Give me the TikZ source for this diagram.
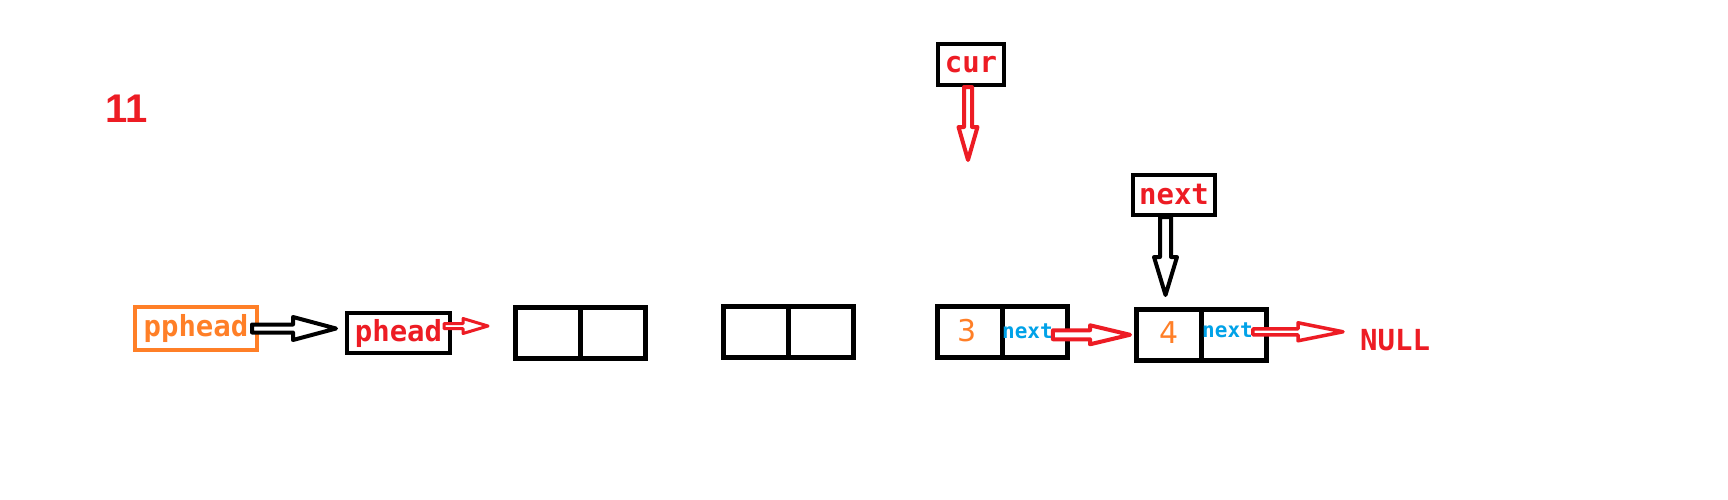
\documentclass[tikz,border=0pt]{standalone}
\usepackage{fontspec}
\usetikzlibrary{calc}
\newfontfamily\monof{DejaVu Sans Mono}
\newfontfamily\sansf{DejaVu Sans}
\newfontfamily\arialf{Liberation Sans}
\definecolor{pred}{RGB}{237,28,36}
\definecolor{porange}{RGB}{255,127,39}
\definecolor{pblue}{RGB}{0,162,232}
% hollow horizontal arrow: style, start, tip, shaft half, head half, head length
\newcommand{\harr}[6]{\draw[#1] let \p1=#2, \p2=#3 in (\x1,\y1+#4) -- (\x2-#6,\y1+#4) -- (\x2-#6,\y1+#5) -- (\x2,\y1) -- (\x2-#6,\y1-#5) -- (\x2-#6,\y1-#4) -- (\x1,\y1-#4) -- cycle;}
% hollow downward arrow
\newcommand{\varr}[6]{\draw[#1] let \p1=#2, \p2=#3 in (\x1+#4,\y1) -- (\x1+#4,\y2+#6) -- (\x1+#5,\y2+#6) -- (\x1,\y2) -- (\x1-#5,\y2+#6) -- (\x1-#4,\y2+#6) -- (\x1-#4,\y1) -- cycle;}
\begin{document}
\begin{tikzpicture}[x=1pt,y=-1pt,
  lbl/.style={font=\monof\bfseries\fontsize{29}{34}\selectfont, inner sep=0pt},
  ptrbox/.style={draw=black, line width=4pt, lbl, text=pred},
  cellbox/.style={draw=black, line width=5pt, minimum width=130pt, minimum height=51pt, inner sep=0pt},
  valtxt/.style={font=\sansf\fontsize{30}{36}\selectfont, text=porange, inner sep=0pt},
  nexttxt/.style={font=\monof\bfseries\fontsize{21}{25}\selectfont, text=pblue, inner sep=0pt, anchor=base west},
  harrow/.style={line width=4pt, line join=round, fill=white},
]
\useasboundingbox (0,0) rectangle (1728,499);
\fill[white] (0,0) rectangle (1728,499);

\node[font=\arialf\bfseries\fontsize{40}{48}\selectfont, text=pred, inner sep=0pt, anchor=base west] (num) at (105,122) {11};

\node[lbl, draw=porange, line width=4pt, text=porange, minimum width=122pt, minimum height=43pt] (pp) at (196,328.5) {pphead};
\node[ptrbox, minimum width=103pt, minimum height=40pt] (ph) at (398.5,333) {phead};

\node[cellbox] (b1) at (580.5,333) {};
\draw[line width=5pt] (b1.north) -- (b1.south);
\node[cellbox] (b2) at (788.5,332) {};
\draw[line width=5pt] (b2.north) -- (b2.south);
\node[cellbox] (b3) at (1002,332) {};
\draw[line width=5pt] (b3.north) -- (b3.south);
\node[cellbox] (b4) at (1201,335) {};
\draw[line width=5pt] (b4.north) -- (b4.south);

\node[valtxt] (v3) at (967,331) {3};
\node[valtxt] (v4) at (1169.5,333) {4};
\node[nexttxt] (n3) at (1002,338) {next};
\node[nexttxt] (n4) at (1202,337) {next};

\node[ptrbox, minimum width=66pt, minimum height=41pt] (cur) at (971,64.5) {cur};
\node[ptrbox, minimum width=82pt, minimum height=40pt] (nx) at (1174,195) {next};

\node[lbl, text=pred, anchor=base west] (null) at (1360,350) {NULL};

\coordinate (e1) at (336,328.5);
\coordinate (e2) at (488,326);
\coordinate (e3) at (1130,335);
\coordinate (e4) at (1343,332);
\coordinate (e5) at (968,160);
\coordinate (e6) at (1165.5,295);

\harr{harrow, draw=black}{($(pp.east)+(-7,0)$)}{(e1)}{4pt}{11.5pt}{43pt}
\harr{harrow, draw=pred, line width=3pt}{($(ph.east)+(-8,-7)$)}{(e2)}{2.5pt}{7.5pt}{25pt}
\harr{harrow, draw=pred}{($(n3.east)+(0,4)$)}{(e3)}{4.5pt}{9.5pt}{40pt}
\harr{harrow, draw=pred, line width=3.5pt}{($(n4.east)+(0,2)$)}{(e4)}{3pt}{9pt}{45pt}
\varr{harrow, draw=pred}{($(cur.south)+(-3,0)$)}{(e5)}{4pt}{9.5pt}{33pt}
\varr{harrow, draw=black}{($(nx.south)+(-8.5,0)$)}{(e6)}{5.5pt}{11.5pt}{38pt}
\end{tikzpicture}
\end{document}
